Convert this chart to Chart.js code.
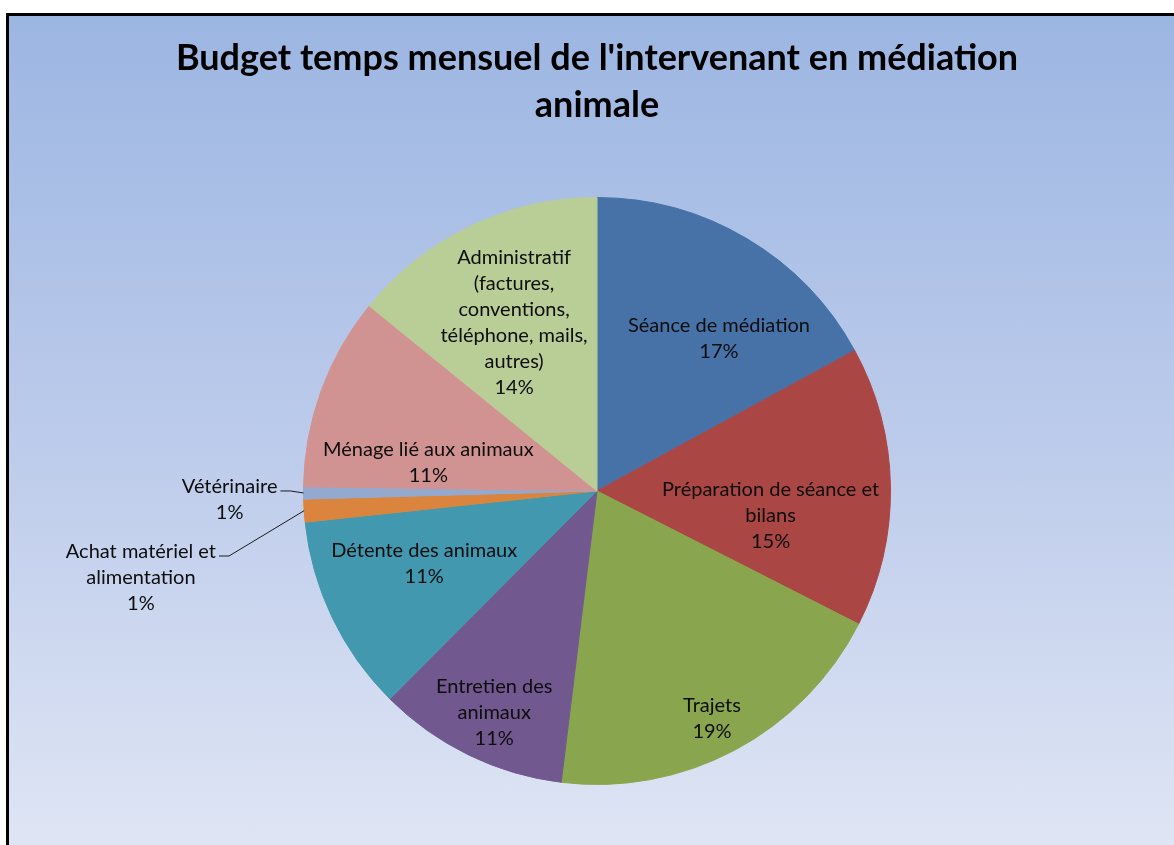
<!DOCTYPE html>
<html>
<head>
<meta charset="utf-8">
<script src="https://cdn.jsdelivr.net/npm/chart.js@4/dist/chart.umd.min.js"></script>
<style>
    body { margin: 0; background: #fff; overflow: hidden; width: 1174px; height: 845px; position: relative; }
    #cadre {
        position: absolute; left: 6px; top: 13px; width: 1200px; height: 900px;
        border-top: 3px solid #000; border-left: 3px solid #000;
        background: linear-gradient(#9cb6e2 0px, #bccbeb 420px, #dfe5f4 832px);
    }
    #camembert { position: absolute; left: 0; top: 0; }
</style>
</head>
<body>
<div id="cadre"></div>
<canvas id="camembert" width="1174" height="845"></canvas>
<script>
// categories (multi-line as in the original labels)
var categories = [
    'Séance de médiation',
    ['Préparation de séance et', 'bilans'],
    'Trajets',
    ['Entretien des', 'animaux'],
    'Détente des animaux',
    ['Achat matériel et', 'alimentation'],
    'Vétérinaire',
    'Ménage lié aux animaux',
    ['Administratif', '(factures,', 'conventions,', 'téléphone, mails,', 'autres)']
];
// part du temps mensuel (%)
var valeurs = [17.0, 15.4, 19.4, 10.5, 10.8, 1.25, 0.67, 10.6, 14.1];
var couleurs = ['#4672a8', '#aa4643', '#89a54e', '#71588f', '#4198af', '#db843d', '#93a9cf', '#d19392', '#b9cd96'];

// emplacement des étiquettes : [angle en degrés depuis midi, fraction du rayon]
var placements = [[38.6, 0.666], [97.9, 0.597], [153.2, 0.869], [204.9, 0.832], [247.1, 0.639],
    [259.2, 1.582], [268.6, 1.252], [279.7, 0.583], [333.8, 0.640]];
var avecTrait = [false, false, false, false, false, true, true, false, false];

var etiquettes = {
    id: 'etiquettes',
    afterDatasetsDraw: function (chart) {
        var c = chart.ctx;
        var meta = chart.getDatasetMeta(0);
        var total = valeurs.reduce(function (a, b) { return a + b; }, 0);
        c.save();
        c.font = '20px Lato';
        c.fillStyle = '#0d0d0d';
        c.textAlign = 'center';
        c.textBaseline = 'middle';
        for (var i = 0; i < meta.data.length; i++) {
            var arc = meta.data[i];
            var R = arc.outerRadius;
            var a = (placements[i][0] - 90) * Math.PI / 180;
            var x = arc.x + R * placements[i][1] * Math.cos(a);
            var y = arc.y + R * placements[i][1] * Math.sin(a);
            var lignes = [].concat(categories[i]);
            lignes.push(Math.round(valeurs[i] / total * 100) + '%');
            var hl = 26;
            var y0 = y - (lignes.length - 1) * hl / 2;
            var largeur = 0;
            for (var k = 0; k < lignes.length; k++) {
                c.fillText(lignes[k], x, y0 + k * hl);
                largeur = Math.max(largeur, c.measureText(lignes[k]).width);
            }
            if (avecTrait[i]) { // trait de rappel vers la part
                var mid = (arc.startAngle + arc.endAngle) / 2;
                var sx = x + largeur / 2 + 3, sy = y0 + 4;
                c.beginPath();
                c.strokeStyle = '#1a1a1a';
                c.lineWidth = 1;
                c.moveTo(sx, sy);
                c.lineTo(sx + 10, sy);
                c.lineTo(arc.x + R * Math.cos(mid), arc.y + R * Math.sin(mid));
                c.stroke();
            }
        }
        c.restore();
    }
};

var ctx = document.getElementById('camembert');
var config = {
    type: 'pie',
    data: {
        labels: categories,
        datasets: [{
            data: valeurs,
            backgroundColor: couleurs,
            borderColor: couleurs,
            borderWidth: 1,
            hoverOffset: 0
        }]
    },
    options: {
        responsive: false,
        animation: false,
        layout: { padding: { left: 20, top: 0, bottom: 60, right: 0 } },
        plugins: {
            legend: { display: false },
            tooltip: { enabled: false },
            title: {
                display: true,
                text: ["Budget temps mensuel de l'intervenant en médiation", 'animale'],
                color: '#000',
                font: { family: 'Lato', size: 36, weight: 'bold', lineHeight: 47 / 36 },
                padding: { top: 35, bottom: 68 }
            }
        }
    },
    plugins: [etiquettes]
};
var graphique = new Chart(ctx, config);
</script>
</body>
</html>
